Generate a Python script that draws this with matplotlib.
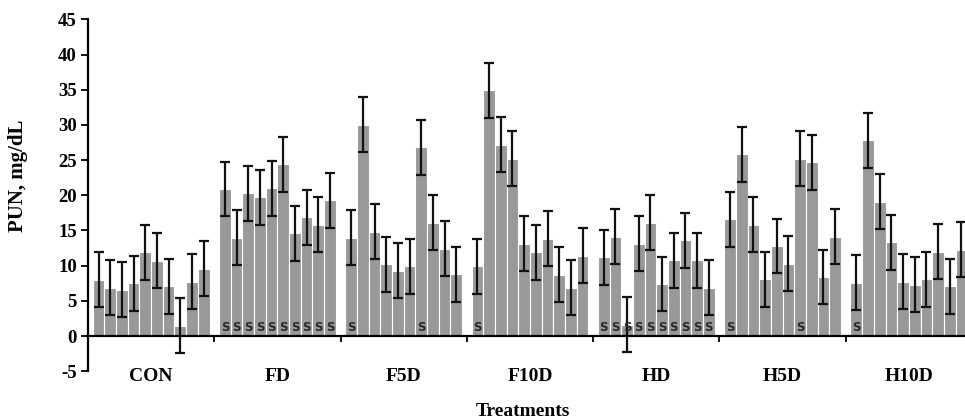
import matplotlib
matplotlib.use("Agg")
import matplotlib.pyplot as plt
import numpy as np

plt.rcParams["axes.unicode_minus"] = False

groups = ["CON", "FD", "F5D", "F10D", "HD", "H5D", "H10D"]

# mean PUN per bar (10 bars per treatment)
pun = [
    [8.0, 6.9, 6.6, 7.5, 11.9, 10.7, 7.1, 1.5, 7.7, 9.6],      # CON
    [20.9, 14.0, 20.3, 19.7, 21.0, 24.4, 14.6, 16.9, 15.8, 19.3],  # FD
    [14.0, 30.0, 14.8, 10.2, 9.3, 9.9, 26.8, 16.1, 12.4, 8.8],  # F5D
    [9.9, 34.9, 27.2, 25.2, 13.1, 11.9, 13.8, 8.7, 6.9, 11.4],  # F10D
    [11.2, 14.1, 1.6, 13.1, 16.1, 7.4, 10.8, 13.6, 10.8, 6.9],  # HD
    [16.6, 25.8, 15.8, 8.1, 12.8, 10.3, 25.2, 24.7, 8.4, 14.1],  # H5D
    [7.6, 27.8, 19.1, 13.3, 7.7, 7.3, 8.1, 12.0, 7.1, 12.3],    # H10D
]
sem = 3.9

# which bars carry the "S" mark
sig = [
    [],
    [0, 1, 2, 3, 4, 5, 6, 7, 8, 9],
    [0, 6],
    [0],
    [0, 1, 2, 3, 4, 5, 6, 7, 8, 9],
    [0, 6],
    [0],
]

serif = ["Liberation Serif", "DejaVu Serif"]

fig = plt.figure(figsize=(9.65, 4.2), dpi=100)
ax = fig.add_axes([88 / 965, 0.116, 884 / 965, 0.838])

nbar = 10
w = 1 / 10.82
for g in range(len(groups)):
    xs = g + (np.arange(nbar) - 4.5) * w
    ax.bar(xs, pun[g], width=w, color="#999999", edgecolor="white", linewidth=0.8, zorder=2)
    ax.errorbar(xs, pun[g], yerr=sem, fmt="none", ecolor="#111111", elinewidth=1.6,
                capsize=3.5, capthick=1.6, zorder=3)
    for j in sig[g]:
        ax.text(xs[j], 1.2, "S", ha="center", va="center", fontsize=8.5,
                fontweight="bold", color="#2a2a2a", family="DejaVu Sans", zorder=4)
    ax.text(g, -5.75, groups[g], ha="center", va="center", fontsize=14,
            fontweight="bold", family=serif, clip_on=False)

ax.set_xlim(-0.5, len(groups) - 0.5)
ax.set_ylim(-5, 45)
ax.set_yticks(np.arange(-5, 50, 5))
ax.set_xticks(np.arange(0.5, len(groups) - 0.5, 1))
ax.set_xticklabels([])

for s in ["top", "right"]:
    ax.spines[s].set_visible(False)
ax.spines["bottom"].set_position(("data", 0))
ax.spines["bottom"].set_linewidth(1.6)
ax.spines["left"].set_linewidth(1.6)
ax.tick_params(axis="y", direction="out", length=5, width=1.3, labelsize=13.5, pad=3)
ax.tick_params(axis="x", direction="out", length=4, width=1.3)
for lab in ax.get_yticklabels():
    lab.set_fontfamily(serif)
    lab.set_fontweight("bold")

fig.text(18 / 965, 1 - 176 / 420, "PUN, mg/dL", rotation=90, ha="center", va="center",
         fontsize=15, fontweight="bold", family=serif)
fig.text(523 / 965, 1 - 411 / 420, "Treatments", ha="center", va="center",
         fontsize=14, fontweight="bold", family=serif)

fig.savefig("out.png", dpi=100)
